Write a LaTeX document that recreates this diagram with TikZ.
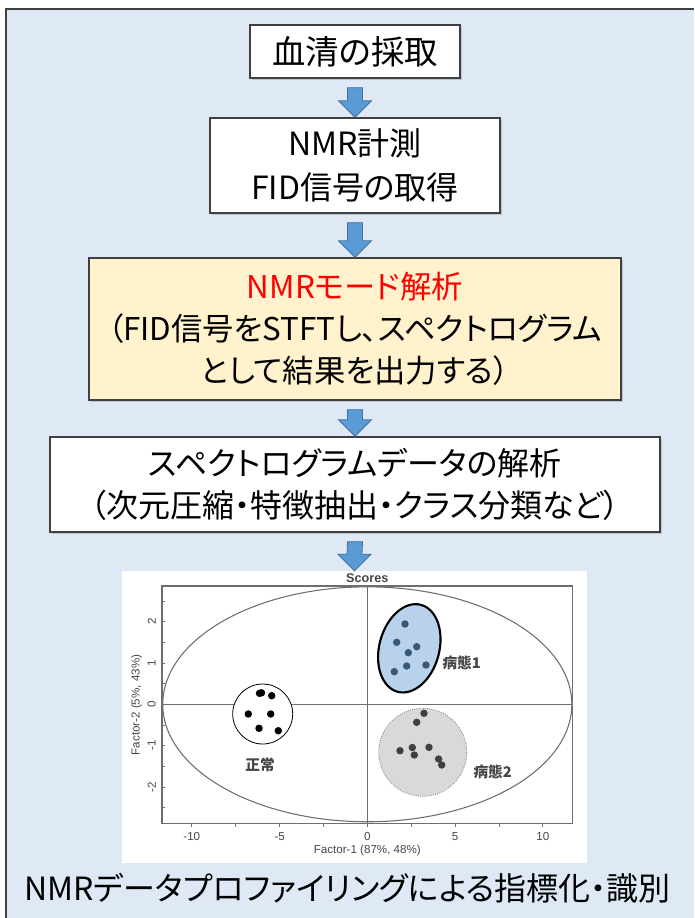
\documentclass[tikz,border=0pt]{standalone}
\usepackage{fontspec}
\setmainfont{Noto Sans CJK JP}[RawFeature=+palt]
\newfontfamily\plotfont{Liberation Sans}
\usetikzlibrary{calc,shadows}
\definecolor{bgblue}{RGB}{222,233,245}
\definecolor{boxline}{RGB}{64,64,64}
\definecolor{boxyellow}{RGB}{255,242,204}
\definecolor{arrowfill}{RGB}{91,155,213}
\definecolor{arrowline}{RGB}{65,113,156}
\definecolor{plotline}{RGB}{110,110,110}
\definecolor{plottext}{RGB}{70,70,70}
\definecolor{grpone}{RGB}{184,210,236}
\definecolor{grponedot}{RGB}{58,88,118}
\definecolor{grptwo}{RGB}{217,217,217}
\definecolor{grptwodot}{RGB}{64,64,64}
\newcommand\blockarrow[2]{%
  \draw[blockarr] ($(#1.south)+(-7.5,9)$) -- ($(#2.north)+(-7.5,-16.5)$)
    -- ($(#2.north)+(-16.5,-16.5)$) -- (#2.north) -- ($(#2.north)+(16.5,-16.5)$)
    -- ($(#2.north)+(7.5,-16.5)$) -- ($(#1.south)+(7.5,9)$) -- cycle;}
\tikzset{
  flowbox/.style={draw=boxline, line width=1.1pt, fill=white, inner sep=0pt,
    align=center, font=\fontsize{23.5}{31.5}\selectfont,
    drop shadow={shadow xshift=1.2pt, shadow yshift=-1.2pt, opacity=0.35}},
  blockarr/.style={fill=arrowfill, draw=arrowline, line width=0.6pt, line join=miter},
  axisline/.style={draw=plotline, line width=0.8pt},
  ticklab/.style={font=\plotfont\fontsize{8.7}{9}\selectfont, text=plottext, inner sep=0pt},
  grplab/.style={font=\fontsize{11}{12}\selectfont\bfseries, text=plottext, inner sep=0pt},
  dotblack/.style={fill=black},
  dotone/.style={fill=grponedot},
  dottwo/.style={fill=grptwodot}
}
\begin{document}
\begin{tikzpicture}[x=0.75pt,y=-0.75pt]
\useasboundingbox (0,0) rectangle (694,918);
\fill[white] (0,0) rectangle (694,918);
\fill[bgblue] (6,9) rectangle (694,918);
\draw[boxline, line width=1.5pt] (6,918) -- (6,9) -- (694,9);

% flow boxes
\node[flowbox, minimum width=157.5pt, minimum height=39.75pt, font=\fontsize{25}{30}\selectfont] (b1) at (355,51.5) {血清の採取};
\node[flowbox, minimum width=217.5pt, minimum height=71.25pt, font=\fontsize{24}{33}\selectfont] (b2) at (355,165.5) {NMR計測\\FID信号の取得};
\node[flowbox, fill=boxyellow, minimum width=399pt, minimum height=106.5pt] (b3) at (355,329) {{\color{red}NMRモード解析}\\（FID信号をSTFTし、スペクトログラム\\として結果を出力する）};
\node[flowbox, minimum width=457.5pt, minimum height=71.25pt, font=\fontsize{24}{31.5}\selectfont] (b4) at (355,484.5) {スペクトログラムデータの解析\\（次元圧縮・特徴抽出・クラス分類など）};
\node[fill=white, inner sep=0pt, minimum width=348.75pt, minimum height=219pt] (plot) at (354.5,717) {};

\blockarrow{b1}{b2}
\blockarrow{b2}{b3}
\blockarrow{b3}{b4}
\blockarrow{b4}{plot}

% score plot
\node[font=\plotfont\bfseries\fontsize{9.5}{10}\selectfont, text=plottext, inner sep=0pt] (ttl) at (367.3,578) {Scores};
\draw[axisline] (367.3,704.3) ellipse [x radius=153.4pt, y radius=88.1pt];
\draw[axisline] (162,586) rectangle (572.3,823.3);
\draw[axisline] (162,704.3) -- (572.3,704.3);
\draw[axisline] (367.3,586) -- (367.3,823.3);
\foreach \u in {-10,-7.5,-5,-2.5,0,2.5,5,7.5,10}{
  \pgfmathsetmacro\xx{367.3+17.55*\u}
  \draw[axisline, line width=0.6pt] (\xx,823.3) -- (\xx,826.5);
}
\foreach \v in {-2.5,-2,-1.5,-1,-0.5,0,0.5,1,1.5,2,2.5}{
  \pgfmathsetmacro\yy{704.3-41.3*\v}
  \draw[axisline, line width=0.6pt] (162,\yy) -- (165,\yy);
}
\foreach \u/\t in {-10/-10,-5/-5,0/0,5/5,10/10}{
  \pgfmathsetmacro\xx{367.3+17.55*\u}
  \node[ticklab] (xl\t) at (\xx,836.7) {\t};
}
\foreach \v/\t in {-2/-2,-1/-1,0/0,1/1,2/2}{
  \pgfmathsetmacro\yy{704.3-41.3*\v}
  \node[ticklab, rotate=90] (yl\t) at (151.7,\yy) {\t};
}
\node[ticklab] (xlab) at (367.3,850.7) {Factor-1 (87\%, 48\%)};
\node[ticklab, rotate=90] (ylab) at (136.7,705) {Factor-2 (5\%, 43\%)};

% groups
\draw[black, line width=0.6pt, fill=white] (262.7,714) circle [radius=22.5pt];
\foreach \p in {(259.5,693.3),(261.5,692.8),(271.7,695.7),(248.3,714),(270.7,714),(259,728.3),(278.3,730.7)}
  \fill[dotblack] \p circle [radius=2.8pt];
\node[grplab] (lnorm) at (260,765) {正常};

\draw[black, line width=1.6pt, fill=grpone, rotate around={-15:(409.3,648.3)}] (409.3,648.3) ellipse [x radius=22.5pt, y radius=33.75pt];
\foreach \p in {(405,624),(396.7,642.3),(416.7,646.7),(408.3,652.7),(426,665),(406.7,666),(394.3,671.7)}
  \fill[dotone] \p circle [radius=2.8pt];
\node[grplab] (lone) at (461.7,663.3) {病態1};

\draw[gray, line width=0.6pt, densely dotted, fill=grptwo] (422.7,752.3) circle [radius=33pt];
\foreach \p in {(424,713.3),(416.7,722.3),(400,750.7),(412.3,747.5),(414.3,755),(429,747.3),(438.6,759),(441.7,765)}
  \fill[dottwo] \p circle [radius=2.8pt];
\node[grplab] (ltwo) at (492.7,771.7) {病態2};

% bottom caption
\node[inner sep=0pt, font=\fontsize{24}{28}\selectfont] (cap) at (347.5,888) {NMRデータプロファイリングによる指標化・識別};
\end{tikzpicture}
\end{document}
